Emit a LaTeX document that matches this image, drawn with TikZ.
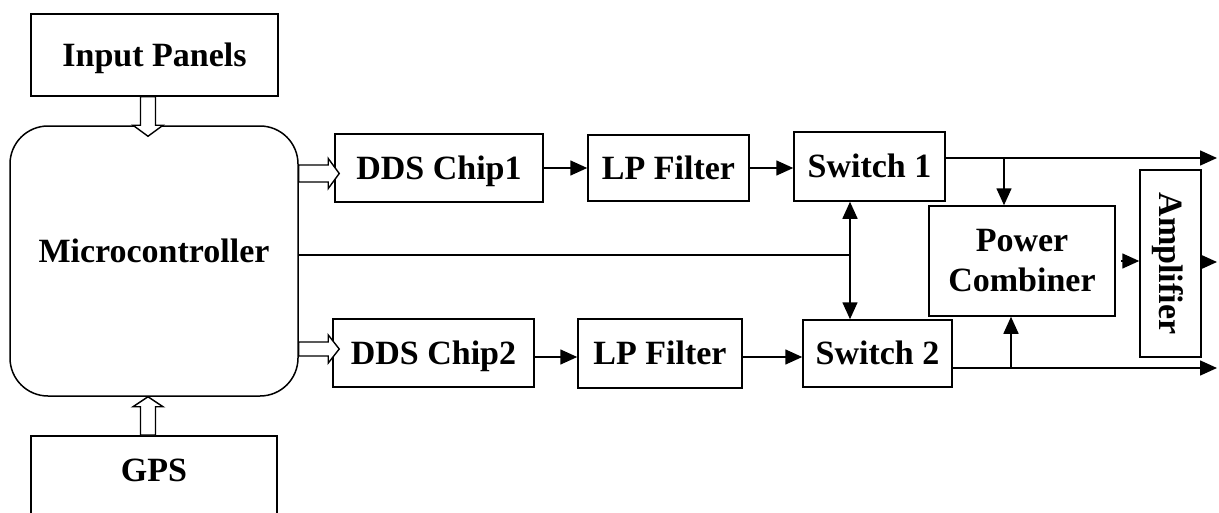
\documentclass[tikz,border=0pt]{standalone}
\usepackage{fontspec}
\setmainfont{Liberation Serif}
\usetikzlibrary{arrows.meta,calc}

\begin{document}
\begin{tikzpicture}[x=1pt,y=-1pt,
  box/.style={draw, line width=1.5pt, inner sep=0pt,
    font=\bfseries\fontsize{34}{40}\selectfont},
  blk/.style={box, text height=22.5pt, text depth=0pt},
  wire/.style={line width=1.6pt},
  sig/.style={wire, -{Triangle[length=17pt,width=15pt]}},
  dsig/.style={wire, {Triangle[length=17pt,width=15pt]}-{Triangle[length=17pt,width=15pt]}},
  hollow/.style={draw, line width=1.4pt, fill=white, line join=miter}
]
\useasboundingbox (0,0) rectangle (1219,512);

% ---- blocks ----
\node[blk, minimum width=247pt, minimum height=82pt] (inp) at (154.5,55) {Input Panels};
\node[blk, rounded corners=38pt, minimum width=288pt, minimum height=270pt] (mcu) at (154,261)
  {\raisebox{10pt}{Microcontroller}};
\node[box, anchor=north, minimum width=246pt, text height=46pt, text depth=34pt] (gps) at (154,435) {GPS};

\node[blk, minimum width=208pt, minimum height=68pt] (dds1) at (439,168) {DDS Chip1};
\node[blk, minimum width=161pt, minimum height=66pt] (lp1) at (668.5,168) {LP Filter};
\node[blk, minimum width=151pt, minimum height=69pt] (sw1) at (869.5,166.5) {Switch 1};

\node[blk, minimum width=201pt, minimum height=68pt] (dds2) at (433.5,353) {DDS Chip2};
\node[blk, minimum width=164pt, minimum height=69pt] (lp2) at (660,353.5) {LP Filter};
\node[blk, minimum width=149pt, minimum height=67pt] (sw2) at (877.5,353.5) {Switch 2};

\node[box, align=center, minimum width=186pt, minimum height=110pt] (pc) at (1022,261) {Power\\Combiner};
\node[blk, rotate=-90, minimum width=187pt, minimum height=61pt] (amp) at (1170.5,263.5) {Amplifier};

% ---- helper coordinates ----
\coordinate (xa) at (148,0);
\coordinate (r1) at (0,173.5);
\coordinate (r2) at (0,349);
\coordinate (ctl) at (850,255);
\coordinate (row2) at (0,357);
\coordinate (o1) at (1217,158);
\coordinate (o2) at (1217,368);
\coordinate (j1) at (1004,158);
\coordinate (j2) at (1011,368);
\coordinate (o3) at (1217,262);

% ---- bus arrows (hollow) ----
\draw[hollow] let \p1=(xa |- inp.south), \p2=(xa |- mcu.north) in
  (\x1-7.5pt,\y1) -- (\x1-7.5pt,\y2) -- (\x1-15pt,\y2) -- (\x1,\y2-11pt)
  -- (\x1+15pt,\y2) -- (\x1+7.5pt,\y2) -- (\x1+7.5pt,\y1) -- cycle;
\draw[hollow] let \p1=(xa |- gps.north), \p2=(xa |- mcu.south) in
  (\x1-7.5pt,\y1) -- (\x1-7.5pt,\y2-10pt) -- (\x1-15pt,\y2-10pt) -- (\x1,\y2)
  -- (\x1+15pt,\y2-10pt) -- (\x1+7.5pt,\y2-10pt) -- (\x1+7.5pt,\y1) -- cycle;
\draw[hollow] let \p1=(mcu.east |- r1), \p2=(dds1.west |- r1) in
  (\x1,\y1+8.5pt) -- (\x2-6pt,\y1+8.5pt) -- (\x2-6pt,\y1+15pt) -- (\x2+5pt,\y1)
  -- (\x2-6pt,\y1-15pt) -- (\x2-6pt,\y1-8.5pt) -- (\x1,\y1-8.5pt) -- cycle;
\draw[hollow] let \p1=(mcu.east |- r2), \p2=(dds2.west |- r2) in
  (\x1,\y1+7pt) -- (\x2-4pt,\y1+7pt) -- (\x2-4pt,\y1+14pt) -- (\x2+7pt,\y1)
  -- (\x2-4pt,\y1-14pt) -- (\x2-4pt,\y1-7pt) -- (\x1,\y1-7pt) -- cycle;

% ---- signal paths ----
\draw[sig] (dds1.east) -- (lp1.west);
\draw[sig] (lp1.east) -- (lp1.east -| sw1.west);
\draw[sig] (dds2.east |- row2) -- (lp2.west |- row2);
\draw[sig] (lp2.east |- row2) -- (sw2.west |- row2);

\draw[wire] (mcu.east |- ctl) -- (ctl);
\draw[dsig] (ctl |- sw1.south) -- (ctl |- sw2.north);

\draw[sig] (sw1.east |- o1) -- (o1);
\draw[sig] (j1) -- (j1 |- pc.north);
\draw[sig] (sw2.east |- o2) -- (o2);
\draw[sig] (j2) -- (j2 |- pc.south);

\draw[sig] ([xshift=5pt]pc.east) -- (pc.east -| amp.south);
\draw[sig] (amp.north |- o3) -- (o3);
\end{tikzpicture}
\end{document}
